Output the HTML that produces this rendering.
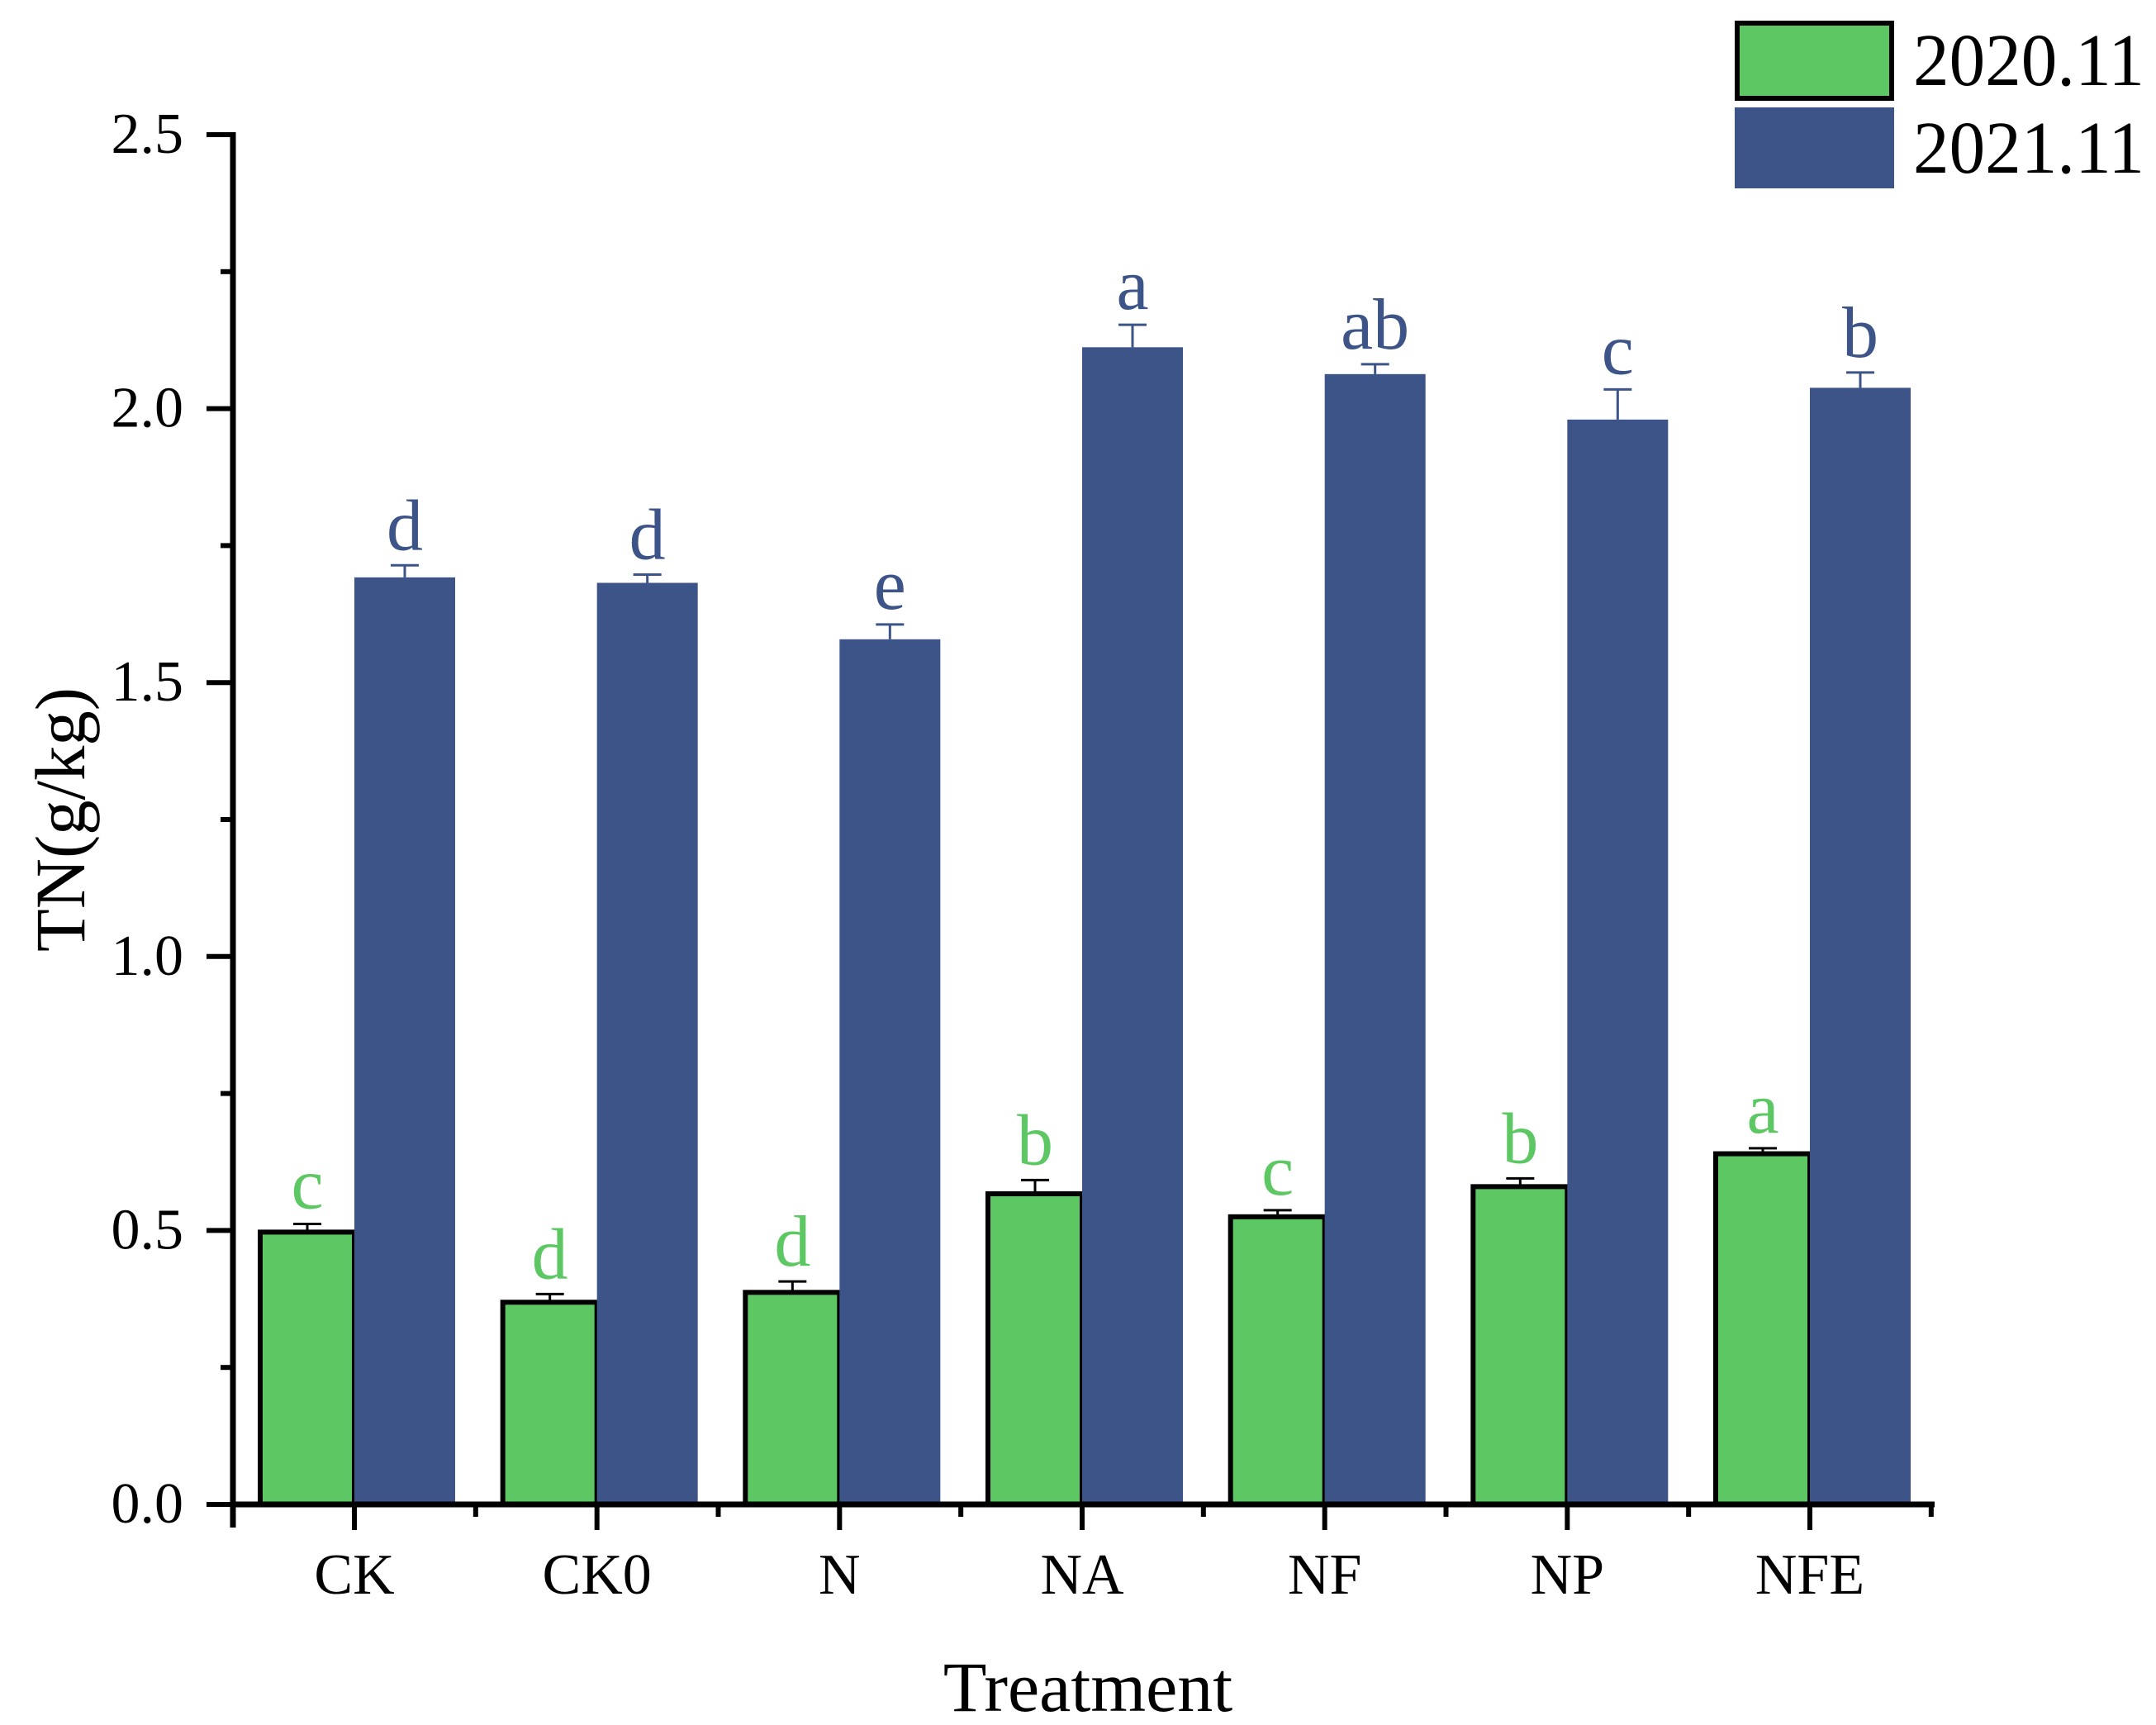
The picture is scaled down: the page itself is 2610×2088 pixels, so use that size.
<!DOCTYPE html>
<html><head><meta charset="utf-8"><style>
html,body{margin:0;padding:0;background:#fff;}
svg{display:block;font-family:"Liberation Serif",serif;}
</style></head><body>
<svg id="chart" width="2610" height="2088" viewBox="0 0 2610 2088" xmlns="http://www.w3.org/2000/svg">
<g id="plot"></g>
<text transform="translate(102,992) rotate(-90)" text-anchor="middle" font-size="86" textLength="320" lengthAdjust="spacingAndGlyphs">TN(g/kg)</text>
<text x="1317" y="2071" text-anchor="middle" font-size="86">Treatment</text>
<g>
<rect x="2103" y="28" width="187" height="91" fill="#5DC863" stroke="#000" stroke-width="6"/>
<text x="2316" y="103" font-size="90" textLength="280" lengthAdjust="spacingAndGlyphs">2020.11</text>
<rect x="2100" y="130" width="193" height="98" fill="#3C5488"/>
<text x="2316" y="209" font-size="90" textLength="280" lengthAdjust="spacingAndGlyphs">2021.11</text>
</g>
</svg>
<script>
const categories = ["CK","CK0","N","NA","NF","NP","NFE"];
const values2020 = [0.497,0.369,0.387,0.567,0.525,0.580,0.640];
const errors2020 = [0.015,0.015,0.020,0.025,0.012,0.015,0.010];
const letters2020 = ["c","d","d","b","c","b","a"];
const values2021 = [1.692,1.682,1.579,2.112,2.063,1.980,2.038];
const errors2021 = [0.022,0.015,0.027,0.041,0.018,0.055,0.028];
const letters2021 = ["d","d","e","a","ab","c","b"];
const yTicks = [0,0.5,1.0,1.5,2.0,2.5];
const yTickLabels = ["0.0","0.5","1.0","1.5","2.0","2.5"];

const NS = "http://www.w3.org/2000/svg";
const GREEN = "#5DC863", BLUE = "#3C5488";
const x0 = 282, x1 = 2342, yBase = 1821, yTop = 163, yMax = 2.5;
const y = v => yBase - (v / yMax) * (yBase - yTop);
const step = (2191 - 429) / 6;
const xc = i => 429 + i * step;
const g = document.getElementById('plot');
function el(tag, attrs) { const e = document.createElementNS(NS, tag); for (const k in attrs) e.setAttribute(k, attrs[k]); g.appendChild(e); return e; }

categories.forEach((c, i) => {
  const cx = xc(i);
  const gb = el('rect', {x: cx - 114, y: y(values2020[i]), width: 114, height: yBase - y(values2020[i]), fill: GREEN, stroke: '#000', 'stroke-width': 6});
  
  
  const bb = el('rect', {x: cx, y: y(values2021[i]), width: 122, height: yBase - y(values2021[i]), fill: BLUE});
  
  
  const gx = cx - 57, bx = cx + 61;
  const ge = el('path', {d: `M${gx},${y(values2020[i])} V${y(values2020[i] + errors2020[i])} M${gx - 17},${y(values2020[i] + errors2020[i])} H${gx + 17}`, stroke: '#000', 'stroke-width': 3, fill: 'none'});
  
  
  const be = el('path', {d: `M${bx},${y(values2021[i])} V${y(values2021[i] + errors2021[i])} M${bx - 17},${y(values2021[i] + errors2021[i])} H${bx + 17}`, stroke: BLUE, 'stroke-width': 3, fill: 'none'});
  
  
  const gl = el('text', {x: gx, y: y(values2020[i] + errors2020[i]) - 19, 'text-anchor': 'middle', 'font-size': 88, fill: GREEN});
  gl.textContent = letters2020[i];
  
  
  const bl = el('text', {x: bx, y: y(values2021[i] + errors2021[i]) - 19, 'text-anchor': 'middle', 'font-size': 88, fill: BLUE});
  bl.textContent = letters2021[i];
  
  
  const t = el('line', {x1: cx, x2: cx, y1: yBase, y2: 1852, stroke: '#000', 'stroke-width': 6});
  
  
  const lb = el('text', {x: cx, y: 1929, 'text-anchor': 'middle', 'font-size': 70});
  lb.textContent = c;
  
  
});
for (let i = 0; i <= categories.length; i++) {
  const mx = xc(i) - step / 2;
  const m = el('line', {x1: mx, x2: mx, y1: yBase, y2: 1836, stroke: '#000', 'stroke-width': 6});
  
  
}
yTicks.forEach((v, i) => {
  const t = el('line', {x1: 250, x2: x0, y1: y(v), y2: y(v), stroke: '#000', 'stroke-width': 6});
  
  
  const lb = el('text', {x: 222, y: y(v) + 22, 'text-anchor': 'end', 'font-size': 70});
  lb.textContent = yTickLabels[i];
  
  
  if (i < yTicks.length - 1) {
    const mv = (yTicks[i] + yTicks[i + 1]) / 2;
    const m = el('line', {x1: 267, x2: x0, y1: y(mv), y2: y(mv), stroke: '#000', 'stroke-width': 6});
    
    
  }
});
const ya = el('line', {x1: x0, x2: x0, y1: yTop - 3, y2: yBase + 28, stroke: '#000', 'stroke-width': 7});


const xa = el('line', {x1: x0 - 3, x2: x1, y1: yBase, y2: yBase, stroke: '#000', 'stroke-width': 7});


</script>
</body></html>
